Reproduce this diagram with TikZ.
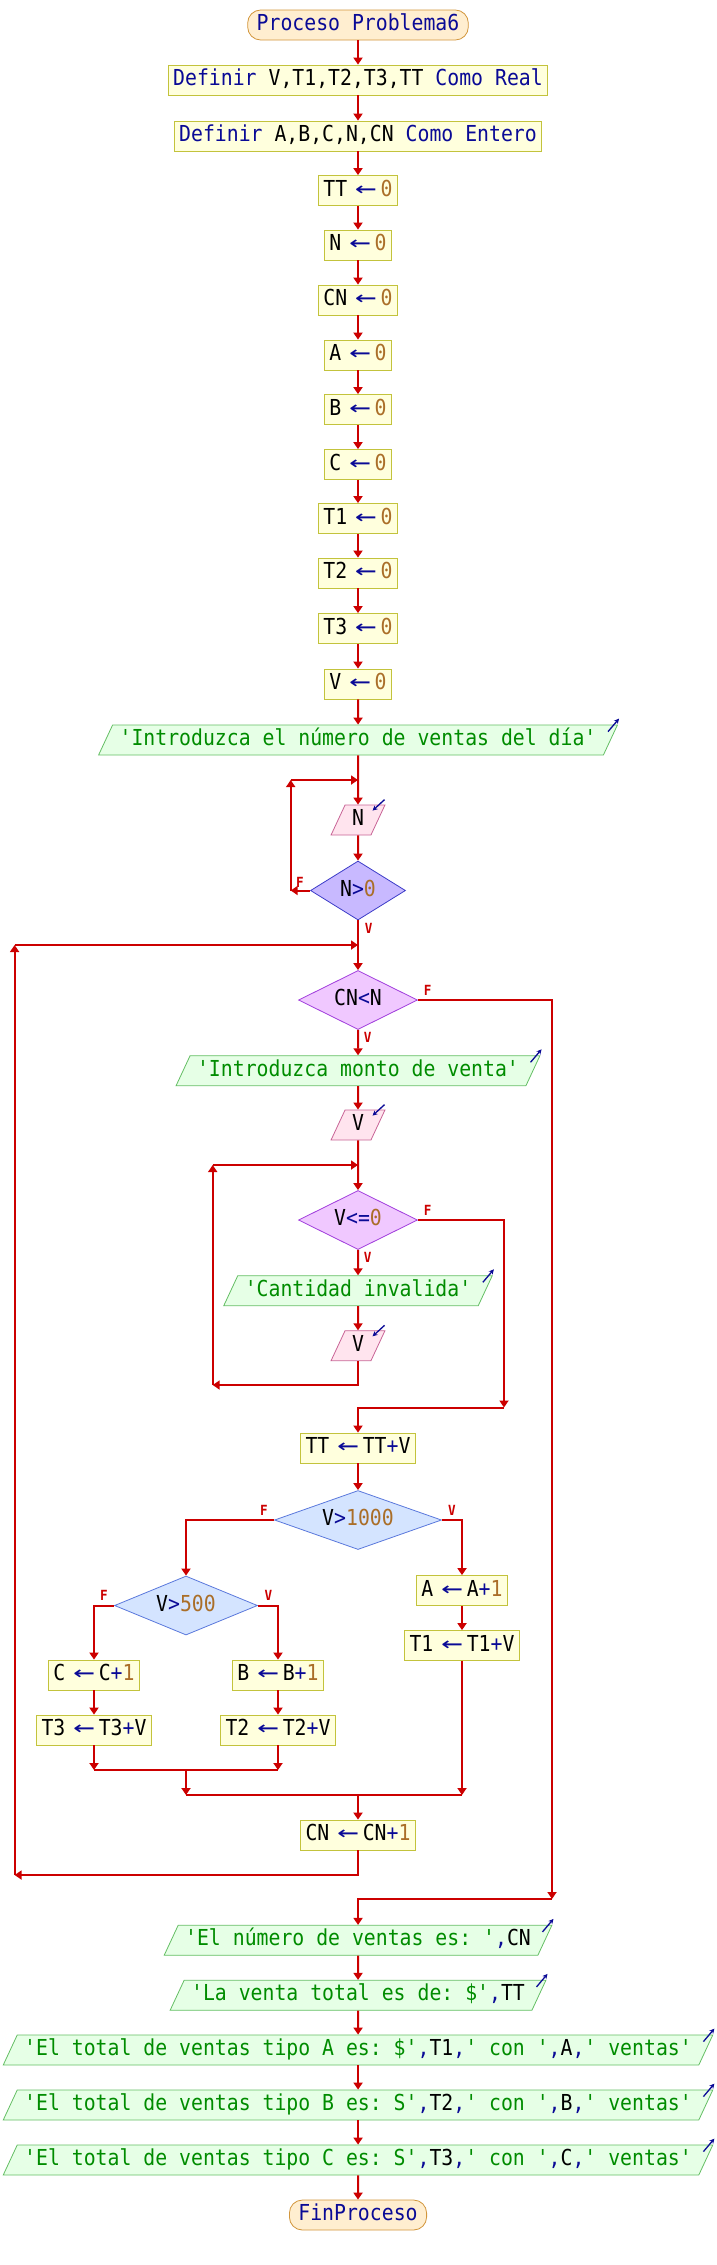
\documentclass[tikz,border=0pt]{standalone}
\usepackage{fontspec}
\setmonofont[FakeStretch=0.9]{DejaVu Sans Mono}
\usetikzlibrary{shapes.geometric,arrows.meta,calc}
\definecolor{boxfill}{RGB}{255,255,221}
\definecolor{boxline}{RGB}{195,195,60}
\definecolor{termfill}{RGB}{255,238,208}
\definecolor{termline}{RGB}{210,150,60}
\definecolor{outfill}{RGB}{230,255,230}
\definecolor{outline}{RGB}{100,190,100}
\definecolor{infill}{RGB}{255,228,238}
\definecolor{inline}{RGB}{200,100,150}
\definecolor{diaAfill}{RGB}{200,185,255}
\definecolor{diaAline}{RGB}{60,60,200}
\definecolor{diaBfill}{RGB}{240,200,255}
\definecolor{diaBline}{RGB}{160,60,220}
\definecolor{diaCfill}{RGB}{212,228,255}
\definecolor{diaCline}{RGB}{90,120,220}
\definecolor{linered}{RGB}{204,0,0}
\definecolor{kwblue}{RGB}{10,10,150}
\definecolor{numbrown}{RGB}{170,110,40}
\definecolor{strgreen}{RGB}{0,140,0}
\newcommand\pkw[1]{\textcolor{kwblue}{#1}}
\newcommand\pnum[1]{\textcolor{numbrown}{#1}}
\newcommand\pstr[1]{\textcolor{strgreen}{#1}}
\newcommand\asg{\hspace{8pt}\textcolor{kwblue}{\scalebox{1.8}[1.1]{←}}\hspace{4pt}}
\begin{document}
\begin{tikzpicture}[x=1pt,y=-1pt,
  base/.style={font=\ttfamily\fontsize{22}{26}\selectfont, text height=16pt, text depth=5pt, inner ysep=4.5pt, line width=0.8pt},
  proc/.style={base, rectangle, draw=boxline, fill=boxfill, inner xsep=5pt},
  term/.style={base, rectangle, draw=termline, fill=termfill, rounded corners=13pt, inner xsep=9pt, text=kwblue},
  outp/.style={base, trapezium, trapezium left angle=65, trapezium right angle=115, draw=outline, fill=outfill, inner xsep=7pt},
  inp/.style={base, trapezium, trapezium left angle=65, trapezium right angle=115, draw=inline, fill=infill, inner xsep=7pt},
  dia/.style={base, diamond, aspect=2, inner sep=0pt, minimum height=59pt},
  diaA/.style={dia, draw=diaAline, fill=diaAfill},
  diaB/.style={dia, draw=diaBline, fill=diaBfill},
  diaC/.style={dia, draw=diaCline, fill=diaCfill},
  conn/.style={draw=linered, line width=2pt},
  arr/.style={conn, -{Triangle[length=7pt,width=9pt]}},
  lab/.style={text=linered, font=\ttfamily\bfseries\fontsize{14}{14}\selectfont, inner sep=0pt},
  outicon/.style={draw=kwblue, line width=1.3pt, -{Stealth[length=5pt,width=5pt]}},
]
\useasboundingbox (0,0) rectangle (716,2265);

% ---- nodes ----
\node[term] (pro) at (358,25) {Proceso Problema6};
\node[proc] (d1) at (358,80) {\pkw{Definir} V,T1,T2,T3,TT \pkw{Como Real}};
\node[proc] (d2) at (358,136) {\pkw{Definir} A,B,C,N,CN \pkw{Como Entero}};
\node[proc] (sTT) at (358,190.5) {TT\asg\pnum{0}};
\node[proc] (sN) at (358,245) {N\asg\pnum{0}};
\node[proc] (sCN) at (358,300) {CN\asg\pnum{0}};
\node[proc] (sA) at (358,355) {A\asg\pnum{0}};
\node[proc] (sB) at (358,409.5) {B\asg\pnum{0}};
\node[proc] (sC) at (358,464.5) {C\asg\pnum{0}};
\node[proc] (sT1) at (358,518.5) {T1\asg\pnum{0}};
\node[proc] (sT2) at (358,573) {T2\asg\pnum{0}};
\node[proc] (sT3) at (358,628.5) {T3\asg\pnum{0}};
\node[proc] (sV) at (358,684) {V\asg\pnum{0}};
\node[outp] (o1) at (358,740) {\pstr{'Introduzca el número de ventas del día'}};
\node[inp] (rN) at (358,820) {N};
\node[diaA, minimum width=95pt] (cN) at (358,890.5) {N\pkw{>}\pnum{0}};
\node[diaB, minimum width=119pt] (cCN) at (358,1000) {CN\pkw{<}N};
\node[outp] (o2) at (358,1070.7) {\pstr{'Introduzca monto de venta'}};
\node[inp] (rV1) at (358,1125) {V};
\node[diaB, minimum width=119pt] (cV) at (358,1220) {V\pkw{<=}\pnum{0}};
\node[outp] (o3) at (358,1290.7) {\pstr{'Cantidad invalida'}};
\node[inp] (rV2) at (358,1345.7) {V};
\node[proc] (sTTV) at (358,1448) {TT\asg TT\pkw{+}V};
\node[diaC, minimum width=167pt] (c1000) at (358,1520) {V\pkw{>}\pnum{1000}};
\node[proc] (sAA) at (462,1590.5) {A\asg A\pkw{+}\pnum{1}};
\node[proc] (sT1V) at (462,1645.5) {T1\asg T1\pkw{+}V};
\node[diaC, minimum width=143pt] (c500) at (186,1605.5) {V\pkw{>}\pnum{500}};
\node[proc] (sCC) at (94,1675) {C\asg C\pkw{+}\pnum{1}};
\node[proc] (sT3V) at (94,1730) {T3\asg T3\pkw{+}V};
\node[proc] (sBB) at (278,1675) {B\asg B\pkw{+}\pnum{1}};
\node[proc] (sT2V) at (278,1730) {T2\asg T2\pkw{+}V};
\node[proc] (sCNi) at (358,1835) {CN\asg CN\pkw{+}\pnum{1}};
\node[outp] (oA) at (358,1940.3) {\pstr{'El número de ventas es: '}\pkw{,}CN};
\node[outp] (oB) at (358,1995.3) {\pstr{'La venta total es de: \$'}\pkw{,}TT};
\node[outp] (oC) at (358,2050) {\pstr{'El total de ventas tipo A es: \$'}\pkw{,}T1\pkw{,}\pstr{' con '}\pkw{,}A\pkw{,}\pstr{' ventas'}};
\node[outp] (oD) at (358,2105) {\pstr{'El total de ventas tipo B es: S'}\pkw{,}T2\pkw{,}\pstr{' con '}\pkw{,}B\pkw{,}\pstr{' ventas'}};
\node[outp] (oE) at (358,2160) {\pstr{'El total de ventas tipo C es: S'}\pkw{,}T3\pkw{,}\pstr{' con '}\pkw{,}C\pkw{,}\pstr{' ventas'}};
\node[term] (fin) at (358,2215) {FinProceso};

% ---- icons ----
\foreach \n in {o1,o2,o3,oA,oB,oC,oD,oE}
  \draw[outicon] ($(\n.top right corner)+(-10,7)$) -- ($(\n.top right corner)+(1,-6)$);
\foreach \n in {rN,rV1,rV2}
  \draw[outicon] ($(\n.top right corner)+(-1,-5)$) -- ($(\n.top right corner)+(-13,6)$);

% ---- coordinates ----
\coordinate (j1) at (358,780);
\coordinate (j1l) at (290.7,780);
\coordinate (f1) at (290.7,890.5);
\coordinate (j2) at (358,945);
\coordinate (j2l) at (14.6,945);
\coordinate (b2l) at (14.6,1875);
\coordinate (e1) at (552,1899);
\coordinate (j3) at (358,1165);
\coordinate (j3l) at (212.7,1165);
\coordinate (b3l) at (212.7,1385);
\coordinate (e2) at (504,1407.5);
\coordinate (k1) at (186,1770);
\coordinate (k2) at (186,1795);

% ---- connectors ----
\draw[arr] (pro.south) -- (d1.north);
\draw[arr] (d1.south) -- (d2.north);
\draw[arr] (d2.south) -- (sTT.north);
\draw[arr] (sTT.south) -- (sN.north);
\draw[arr] (sN.south) -- (sCN.north);
\draw[arr] (sCN.south) -- (sA.north);
\draw[arr] (sA.south) -- (sB.north);
\draw[arr] (sB.south) -- (sC.north);
\draw[arr] (sC.south) -- (sT1.north);
\draw[arr] (sT1.south) -- (sT2.north);
\draw[arr] (sT2.south) -- (sT3.north);
\draw[arr] (sT3.south) -- (sV.north);
\draw[arr] (sV.south) -- (o1.north);
\draw[arr] (o1.south) -- (rN.north);
\draw[arr] (rN.south) -- (cN.north);
\draw[arr] (cN.west) -- (f1);
\draw[arr] (f1) -- (j1l);
\draw[arr] (j1l) -- (j1);
\draw[arr] (cN.south) -- (cCN.north);
\draw[arr] (j2l) -- (j2);
\draw[arr] (cCN.south) -- (o2.north);
\draw[arr] (o2.south) -- (rV1.north);
\draw[arr] (rV1.south) -- (cV.north);
\draw[arr] (j3l) -- (j3);
\draw[arr] (cV.south) -- (o3.north);
\draw[arr] (o3.south) -- (rV2.north);
\draw[arr] (rV2.south) |- (b3l);
\draw[arr] (b3l) -- (j3l);
\draw[arr] (cV.east) -| (e2);
\draw[arr] (e2) -| (sTTV.north);
\draw[arr] (sTTV.south) -- (c1000.north);
\draw[arr] (c1000.west) -| (c500.north);
\draw[arr] (c1000.east) -| (sAA.north);
\draw[arr] (sAA.south) -- (sT1V.north);
\draw[arr] (c500.west) -| (sCC.north);
\draw[arr] (c500.east) -| (sBB.north);
\draw[arr] (sCC.south) -- (sT3V.north);
\draw[arr] (sBB.south) -- (sT2V.north);
\draw[arr] (sT3V.south) -- (sT3V.south |- k1);
\draw[arr] (sT2V.south) -- (sT2V.south |- k1);
\draw[conn] (sT3V.south |- k1) -- (sT2V.south |- k1);
\draw[arr] (k1) -- (k2);
\draw[arr] (sT1V.south) -- (sT1V.south |- k2);
\draw[conn] (k2) -- (sT1V.south |- k2);
\draw[arr] (sCNi.north |- k2) -- (sCNi.north);
\draw[arr] (sCNi.south) |- (b2l);
\draw[arr] (b2l) -- (j2l);
\draw[arr] (cCN.east) -| (e1);
\draw[arr] (e1) -| (oA.north);
\draw[arr] (oA.south) -- (oB.north);
\draw[arr] (oB.south) -- (oC.north);
\draw[arr] (oC.south) -- (oD.north);
\draw[arr] (oD.south) -- (oE.north);
\draw[arr] (oE.south) -- (fin.north);

% ---- labels ----
\node[lab] (lF1) at (300,882) {F};
\node[lab] (lV1) at (368.6,928) {V};
\node[lab] (lF2) at (427.7,990) {F};
\node[lab] (lV2) at (367.7,1037) {V};
\node[lab] (lF3) at (427.7,1210) {F};
\node[lab] (lV3) at (367.7,1257) {V};
\node[lab] (lF4) at (264,1510) {F};
\node[lab] (lV4) at (452,1510) {V};
\node[lab] (lF5) at (104,1595) {F};
\node[lab] (lV5) at (268.5,1595) {V};
\end{tikzpicture}
\end{document}
